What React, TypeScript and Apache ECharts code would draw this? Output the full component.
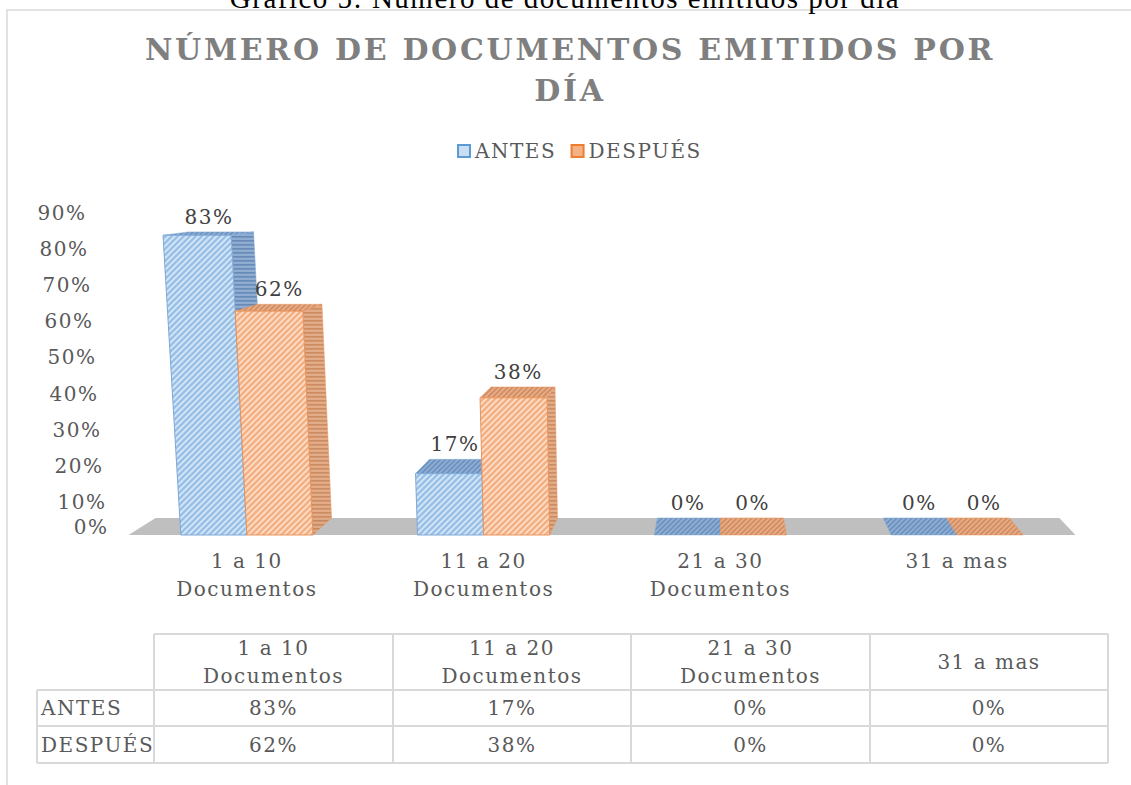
import React, { useEffect, useRef } from 'react';
import * as echarts from 'echarts';

const categories = ['1 a 10\nDocumentos', '11 a 20\nDocumentos', '21 a 30\nDocumentos', '31 a mas'];
const seriesNames = ['ANTES', 'DESPUÉS'];
const antesValues = [83, 17, 0, 0];
const despuesValues = [62, 38, 0, 0];
const yTickValues = [0, 10, 20, 30, 40, 50, 60, 70, 80, 90];
const chartTitle = 'NÚMERO DE DOCUMENTOS EMITIDOS POR\nDÍA';
const caption = 'Gráfico 5: Número de documentos emitidos por día';

const FONT = 'DejaVu Serif';
const VP = [721, 161];
const DEPTH = 0.0456;
const LEAN = 0.00011;
const GRID_LEFT = 128.5;
const GRID_RIGHT_X = 1075.5;
const GRID_TOP = 210;
const FLOOR_Y = 535;
const PLOT_H = FLOOR_Y - GRID_TOP;

function stripes(bg: string, fg: string, size: number, lw: number, horizontal = false) {
  const c = document.createElement('canvas');
  c.width = size;
  c.height = size;
  const g = c.getContext('2d')!;
  g.fillStyle = bg;
  g.fillRect(0, 0, size, size);
  if (horizontal) {
    g.fillStyle = fg;
    g.fillRect(0, 0, size, lw);
  } else {
    g.strokeStyle = fg;
    g.lineWidth = lw;
    g.beginPath();
    g.moveTo(-1, size + 1);
    g.lineTo(size + 1, -1);
    g.moveTo(-1, 1);
    g.lineTo(1, -1);
    g.moveTo(size - 1, size + 1);
    g.lineTo(size + 1, size - 1);
    g.stroke();
  }
  return { image: c, repeat: 'repeat', imageWidth: size, imageHeight: size } as any;
}

const back = (p: number[]) => [p[0] + DEPTH * (VP[0] - p[0]), p[1] + DEPTH * (VP[1] - p[1])];

export default function App() {
  const ref = useRef<HTMLDivElement>(null);
  useEffect(() => {
    if (!ref.current) return;
    const chart = echarts.init(ref.current, undefined, { renderer: 'svg' });

    const pal = [
      {
        front: stripes('#d8e8f7', '#99c0e7', 6, 2.6),
        side: stripes('#8aa9cf', '#5f84b2', 4, 1.6, true),
        top: stripes('#8eaed4', '#6d91be', 5, 1.6),
        border: '#7fa8d6',
      },
      {
        front: stripes('#fddfcb', '#f4b083', 6, 2.6),
        side: stripes('#e0a882', '#c98559', 4, 1.6, true),
        top: stripes('#e6ad88', '#d28c60', 5, 1.6),
        border: '#e9935b',
      },
    ];

    const makeBarRender = (side: number) => (params: any, api: any) => {
      const idx = api.value(0);
      const val = api.value(1);
      const base = api.coord([idx, 0]);
      const topP = api.coord([idx, val]);
      const band = api.size([1, 0])[0];
      const bw = band * 0.279;
      const xl = side === 0 ? base[0] - bw : base[0];
      const xr = xl + bw;
      const y0 = base[1];
      const yt = topP[1];
      const h = y0 - yt;
      const lean = (x: number) => x + (x - VP[0]) * LEAN * h;
      const BL = [xl, y0], BR = [xr, y0];
      const TL = [lean(xl), yt], TR = [lean(xr), yt];
      const bTL = back(TL), bTR = back(TR), bBL = back(BL), bBR = back(BR);
      const p = pal[side];
      const children: any[] = [];
      const cx = (xl + xr) / 2;
      if (h > 0.5) {
        const sidePts = cx < VP[0] ? [BR, TR, bTR, bBR] : [BL, TL, bTL, bBL];
        children.push({ type: 'polygon', shape: { points: sidePts }, style: { fill: p.side, stroke: p.border, lineWidth: 0.5, opacity: 0.95 } });
      }
      children.push({ type: 'polygon', shape: { points: [TL, TR, bTR, bTL] }, style: { fill: p.top, stroke: p.border, lineWidth: 0.5 } });
      if (h > 0.5) {
        children.push({ type: 'polygon', shape: { points: [BL, BR, TR, TL] }, style: { fill: p.front, stroke: p.border, lineWidth: 1 } });
      }
      const lx = (TL[0] + TR[0] + bTL[0] + bTR[0]) / 4;
      const ly = Math.min(bTL[1], bTR[1]) - 5;
      children.push({
        type: 'text',
        x: lx,
        y: ly,
        style: {
          text: `${val}%`,
          fill: '#404040',
          fontSize: 20,
          fontFamily: FONT,
          align: 'center',
          textAlign: 'center',
          verticalAlign: 'bottom',
          textVerticalAlign: 'bottom',
        },
      });
      return { type: 'group', children };
    };

    const floorRender = (params: any, api: any) => {
      const band = api.size([1, 0])[0];
      const a = api.coord([0, 0]);
      const b = api.coord([categories.length - 1, 0]);
      const FL = [a[0] - band / 2, a[1]];
      const FR = [b[0] + band / 2, b[1]];
      return {
        type: 'polygon',
        shape: { points: [FL, FR, back(FR), back(FL)] },
        style: { fill: '#bfbfbf' },
      };
    };

    const rich: any = {};
    yTickValues.forEach((v) => {
      const hh = (v / 90) * PLOT_H;
      const pr = Math.round((VP[0] - 107) * LEAN * hh);
      const dy = v === 0 ? -8 : 3;
      rich['l' + v] = {
        fontSize: 20,
        fontFamily: FONT,
        color: '#595959',
        padding: dy >= 0 ? [2 * dy, pr, 0, 0] : [0, pr, -2 * dy, 0],
      };
    });

    // data table
    const colX = [154, 393, 631, 870, 1108];
    const rowY = [634, 690, 726, 763];
    const rowHeadX = 37;
    const lineStyle = { stroke: '#d9d9d9', lineWidth: 2 };
    const tbl: any[] = [];
    const L = (x1: number, y1: number, x2: number, y2: number) =>
      tbl.push({ type: 'line', shape: { x1, y1, x2, y2 }, style: lineStyle, silent: true });
    L(colX[0], rowY[0], colX[4], rowY[0]);
    for (let r = 1; r < rowY.length; r++) L(rowHeadX, rowY[r], colX[4], rowY[r]);
    L(rowHeadX, rowY[1], rowHeadX, rowY[3]);
    colX.forEach((x) => L(x, rowY[0], x, rowY[3]));
    const T = (text: string, x: number, y: number, align = 'center') =>
      tbl.push({
        type: 'text',
        x,
        y,
        silent: true,
        style: {
          text,
          fill: '#595959',
          fontSize: 20,
          fontFamily: FONT,
          lineHeight: 28,
          align,
          textAlign: align,
          verticalAlign: 'middle',
          textVerticalAlign: 'middle',
        },
      });
    categories.forEach((c, i) => {
      const cx = (colX[i] + colX[i + 1]) / 2;
      T(c, cx, (rowY[0] + rowY[1]) / 2);
      T(`${antesValues[i]}%`, cx, (rowY[1] + rowY[2]) / 2);
      T(`${despuesValues[i]}%`, cx, (rowY[2] + rowY[3]) / 2);
    });
    T(seriesNames[0], rowHeadX + 4, (rowY[1] + rowY[2]) / 2, 'left');
    T(seriesNames[1], rowHeadX + 4, (rowY[2] + rowY[3]) / 2, 'left');

    chart.setOption({
      animation: false,
      backgroundColor: '#ffffff',
      grid: { left: GRID_LEFT, right: 1131 - GRID_RIGHT_X, top: GRID_TOP, bottom: 785 - FLOOR_Y },
      legend: {
        left: 452,
        top: 136,
        itemWidth: 12,
        itemHeight: 12,
        itemGap: 22,
        icon: 'rect',
        textStyle: { fontSize: 20, fontFamily: FONT, color: '#595959' },
        data: [
          { name: seriesNames[0], itemStyle: { color: '#c9def3', borderColor: '#5b9bd5', borderWidth: 2 } },
          { name: seriesNames[1], itemStyle: { color: '#f4b183', borderColor: '#ed7d31', borderWidth: 2 } },
        ],
      },
      xAxis: {
        type: 'category',
        data: categories,
        axisLine: { show: false },
        axisTick: { show: false },
        splitLine: { show: false },
        axisLabel: { interval: 0, margin: 12, fontSize: 20, lineHeight: 28, fontFamily: FONT, color: '#595959' },
      },
      yAxis: {
        type: 'value',
        min: 0,
        max: 90,
        interval: 10,
        axisLine: { show: false },
        axisTick: { show: false },
        splitLine: { show: false },
        axisLabel: {
          margin: 20,
          formatter: (v: number) => `{l${v}|${v}%}`,
          rich,
        },
      },
      series: [
        {
          name: '_floor',
          type: 'custom',
          silent: true,
          renderItem: floorRender,
          data: [[0, 0]],
          encode: { x: 0, y: 1 },
          z: 1,
        },
        {
          name: seriesNames[0],
          type: 'custom',
          silent: true,
          itemStyle: { color: '#5b9bd5' },
          renderItem: makeBarRender(0),
          data: antesValues.map((v, i) => [i, v]),
          encode: { x: 0, y: 1 },
          z: 2,
        },
        {
          name: seriesNames[1],
          type: 'custom',
          silent: true,
          itemStyle: { color: '#ed7d31' },
          renderItem: makeBarRender(1),
          data: despuesValues.map((v, i) => [i, v]),
          encode: { x: 0, y: 1 },
          z: 3,
        },
      ],
      graphic: [
        {
          type: 'rect',
          silent: true,
          shape: { x: 7, y: 10, width: 1140, height: 800 },
          style: { fill: 'none', stroke: '#d9d9d9', lineWidth: 1.5 },
        },
        {
          type: 'text',
          x: 565,
          y: 12,
          silent: true,
          style: {
            text: caption,
            fill: '#000000',
            fontSize: 29,
            fontFamily: 'Liberation Serif',
            align: 'center',
            textAlign: 'center',
            verticalAlign: 'bottom',
            textVerticalAlign: 'bottom',
          },
        },
        {
          type: 'text',
          x: 570,
          y: 29,
          silent: true,
          style: {
            text: chartTitle,
            fill: '#7f7f7f',
            fontSize: 30,
            fontWeight: 'bold',
            fontFamily: FONT,
            lineHeight: 41,
            align: 'center',
            textAlign: 'center',
            verticalAlign: 'top',
            textVerticalAlign: 'top',
          },
        },
        ...tbl,
      ],
    });
    return () => chart.dispose();
  }, []);

  return (
    <>
      <style>{'.chart-root text{letter-spacing:1.5px}.chart-root text[style*="bold"]{letter-spacing:2.7px}'}</style>
      <div
        ref={ref}
        className="chart-root"
        style={{ position: 'absolute', left: 0, top: 0, width: 1131, height: 785, background: '#fff' }}
      />
    </>
  );
}
